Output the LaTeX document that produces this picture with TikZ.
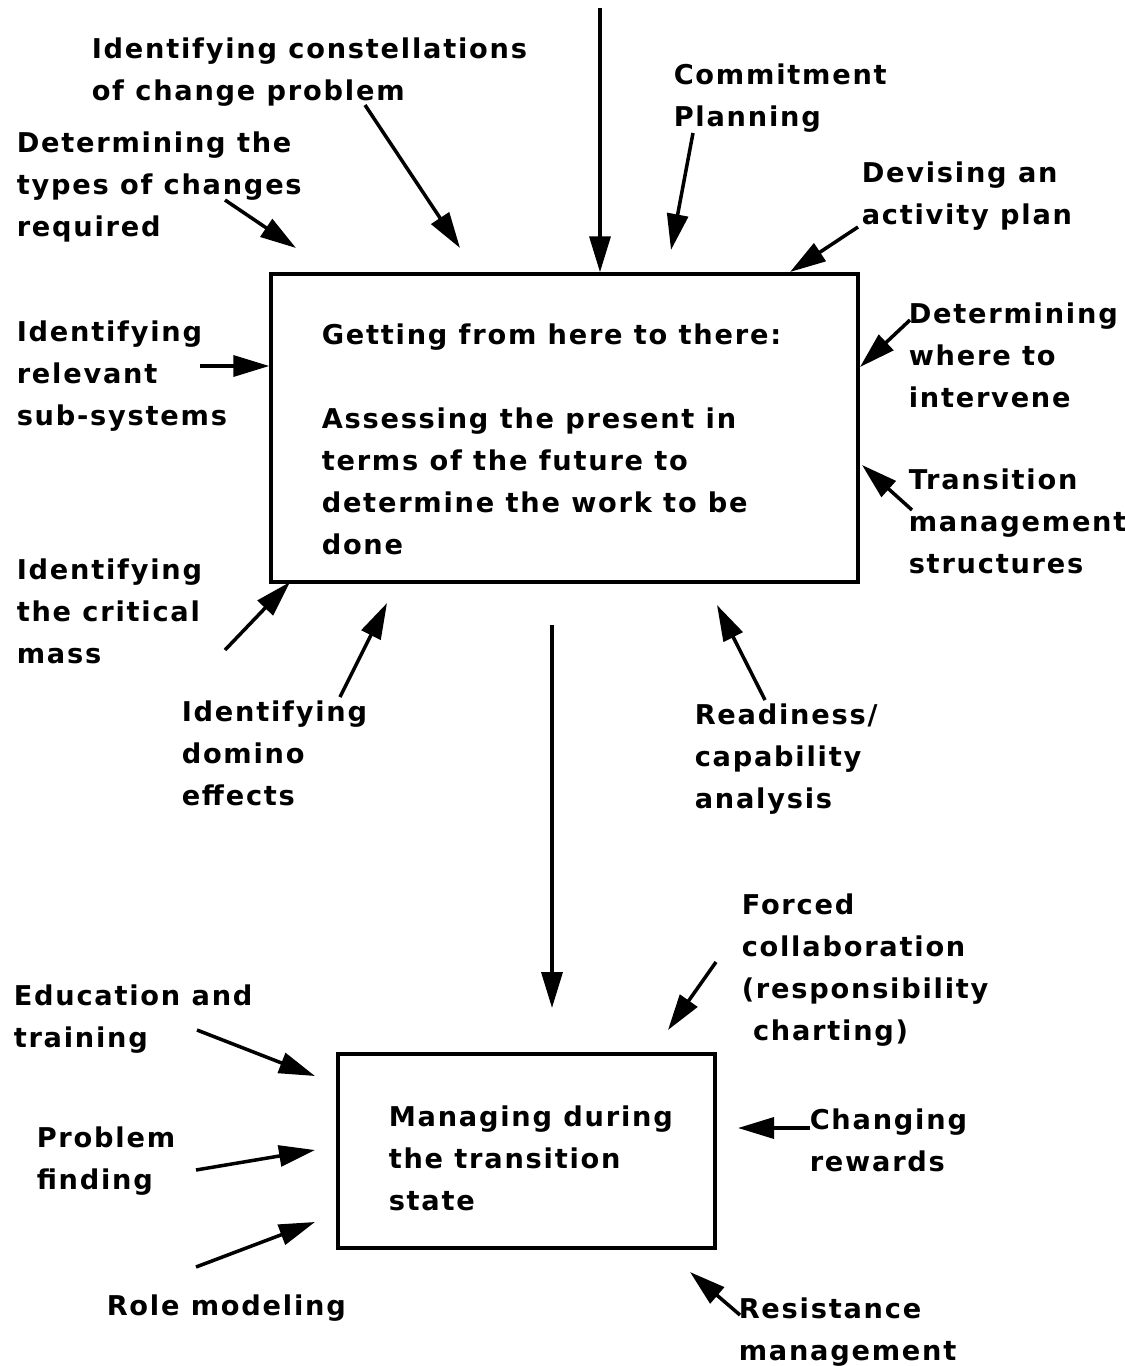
\documentclass[tikz,border=0pt]{standalone}
\usepackage{fontspec}
\setmainfont{DejaVu Sans}[LetterSpace=6.5]
\usetikzlibrary{arrows.meta}
\begin{document}
\begin{tikzpicture}[x=0.02cm, y=-0.02cm,
  txt/.style={anchor=north west, align=left, inner sep=0pt, font=\bfseries\fontsize{15.5}{23.9}\selectfont},
  box/.style={rectangle, draw, line width=2pt},
  >={Triangle[length=0.72cm, width=0.42cm]},
  every path/.style={line width=2pt}]
  \useasboundingbox (0,0) rectangle (1125,1366);
  % Nodes
  \node (plan) [box, minimum width=11.74cm, minimum height=6.16cm] at (564.5,428) {};
  \node (manage) [box, minimum width=7.54cm, minimum height=3.88cm] at (526.5,1151) {};
  \node (plan-t) [txt] at (320,322) {Getting from here to there:\\[0.84cm]Assessing the present in\\terms of the future to\\determine the work to be\\done};
  \node (manage-t) [txt] at (387,1104) {Managing during\\the transition\\state};

  \node (constel) [txt] at (90,36) {Identifying constellations\\of change problem};
  \node (commit) [txt] at (672,62) {Commitment\\Planning};
  \node (types) [txt] at (15,130) {Determining the\\types of changes\\required};
  \node (devise) [txt] at (860,160) {Devising an\\activity plan};
  \node (subsys) [txt] at (15,319) {Identifying\\relevant\\sub-systems};
  \node (where) [txt] at (907,301) {Determining\\where to\\intervene};
  \node (struct) [txt] at (907,467) {Transition\\management\\structures};
  \node (mass) [txt] at (15,557) {Identifying\\the critical\\mass};
  \node (domino) [txt] at (180,699) {Identifying\\domino\\effects};
  \node (ready) [txt] at (693,702) {Readiness/\\capability\\analysis};

  \node (forced) [txt] at (740,892) {Forced\\collaboration\\(responsibility\\\ charting)};
  \node (educ) [txt] at (12,983) {Education and\\training};
  \node (problem) [txt] at (35,1125) {Problem\\finding};
  \node (role) [txt] at (105,1293) {Role modeling};
  \node (reward) [txt] at (808,1107) {Changing\\rewards};
  \node (resist) [txt] at (737,1296) {Resistance\\management};

  % Arrow ends
  \coordinate (top-s) at (600,8);
  \coordinate (mid-s) at (552,625);
  \coordinate (mid-e) at (552,1008);
  \coordinate (constel-s) at (365,105);  \coordinate (constel-e) at (460,248);
  \coordinate (commit-s) at (693,133);   \coordinate (commit-e) at (671,250);
  \coordinate (types-s) at (225,200);    \coordinate (types-e) at (296,248);
  \coordinate (devise-s) at (858,227);   \coordinate (devise-e) at (790,272);
  \coordinate (subsys-s) at (200,366);
  \coordinate (where-s) at (910,320);    \coordinate (where-e) at (860,367);
  \coordinate (struct-s) at (912,510);   \coordinate (struct-e) at (862,465);
  \coordinate (mass-s) at (225,650);     \coordinate (mass-e) at (290,582);
  \coordinate (domino-s) at (340,697);   \coordinate (domino-e) at (387,603);
  \coordinate (ready-s) at (765,700);    \coordinate (ready-e) at (717,605);
  \coordinate (forced-s) at (716,962);   \coordinate (forced-e) at (668,1030);
  \coordinate (educ-s) at (197,1030);    \coordinate (educ-e) at (315,1076);
  \coordinate (problem-s) at (196,1170); \coordinate (problem-e) at (315,1150);
  \coordinate (role-s) at (196,1267);    \coordinate (role-e) at (315,1222);
  \coordinate (reward-s) at (810,1128);  \coordinate (reward-e) at (738,1128);
  \coordinate (resist-s) at (740,1315);  \coordinate (resist-e) at (690,1272);

  % Arrow
  \draw[->] (top-s) -- (top-s |- plan.north);
  \draw[->] (mid-s) -- (mid-e);

  \draw[->] (constel-s) -- (constel-e);
  \draw[->] (commit-s) -- (commit-e);
  \draw[->] (types-s) -- (types-e);
  \draw[->] (devise-s) -- (devise-e);
  \draw[->] (subsys-s) -- (subsys-s -| plan.west);
  \draw[->] (where-s) -- (where-e);
  \draw[->] (struct-s) -- (struct-e);
  \draw[->] (mass-s) -- (mass-e);
  \draw[->] (domino-s) -- (domino-e);
  \draw[->] (ready-s) -- (ready-e);

  \draw[->] (forced-s) -- (forced-e);
  \draw[->] (educ-s) -- (educ-e);
  \draw[->] (problem-s) -- (problem-e);
  \draw[->] (role-s) -- (role-e);
  \draw[->] (reward-s) -- (reward-e);
  \draw[->] (resist-s) -- (resist-e);
\end{tikzpicture}
\end{document}
